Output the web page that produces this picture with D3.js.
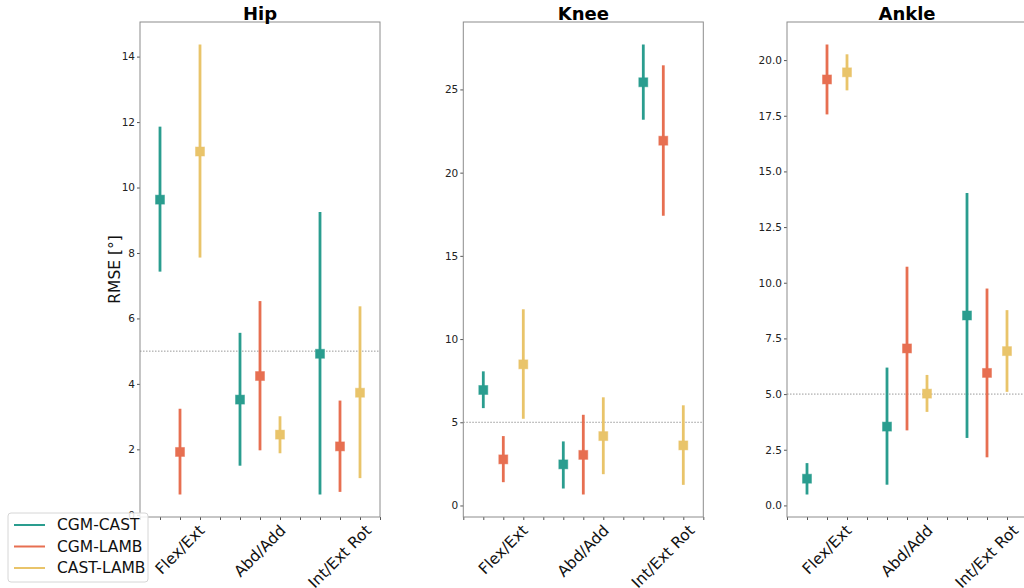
<!DOCTYPE html>
<html>
<head>
<meta charset="utf-8">
<script src="https://cdn.jsdelivr.net/npm/d3@7"></script>
<style>
  body { margin: 0; background: #fff; }
  text { font-family: "DejaVu Sans", sans-serif; }
</style>
</head>
<body>
<div id="chart"></div>
<script>
// categories and series
const categories = ["Flex/Ext", "Abd/Add", "Int/Ext Rot"];
const series = ["CGM-CAST", "CGM-LAMB", "CAST-LAMB"];
const colors = ["#2a9d8f", "#e76f51", "#e9c46a"];

// values read per series (rows) and category (columns)
const hipMean = [[9.63, 3.52, 4.92], [1.92, 4.24, 2.09], [11.10, 2.45, 3.73]];
const hipLow  = [[7.43, 1.50, 0.62], [0.62, 1.97, 0.70], [7.86, 1.88, 1.12]];
const hipHigh = [[11.86, 5.56, 9.25], [3.24, 6.53, 3.49], [14.37, 3.01, 6.37]];

const kneeMean = [[6.94, 2.47, 25.43], [2.77, 3.04, 21.92], [8.48, 4.17, 3.61]];
const kneeLow  = [[5.85, 1.02, 23.18], [1.40, 0.66, 17.41], [5.21, 1.88, 1.24]];
const kneeHigh = [[8.06, 3.85, 27.70], [4.17, 5.45, 26.45], [11.79, 6.50, 6.02]];

const ankleMean = [[1.20, 3.54, 8.53], [19.13, 7.05, 5.95], [19.45, 5.02, 6.93]];
const ankleLow  = [[0.49, 0.93, 3.03], [17.56, 3.37, 2.16], [18.64, 4.20, 5.10]];
const ankleHigh = [[1.90, 6.19, 14.03], [20.70, 10.72, 9.74], [20.26, 5.86, 8.77]];

// y tick labels
const hipTicks = [0, 2, 4, 6, 8, 10, 12, 14];
const kneeTicks = [0, 5, 10, 15, 20, 25];
const ankleTicks = [0, 2.5, 5, 7.5, 10, 12.5, 15, 17.5, 20];

const threshold = 5;

const joints = [
  {title: "Hip", mean: hipMean, low: hipLow, high: hipHigh, ticks: hipTicks, fmt: d3.format("d"), left: 140},
  {title: "Knee", mean: kneeMean, low: kneeLow, high: kneeHigh, ticks: kneeTicks, fmt: d3.format("d"), left: 463.3},
  {title: "Ankle", mean: ankleMean, low: ankleLow, high: ankleHigh, ticks: ankleTicks, fmt: d3.format(".1f"), left: 787}
];

const W = 1024, H = 588;
const plotTop = 22, plotBottom = 517, pw = 240;

const svg = d3.select("#chart").append("svg")
  .attr("width", W).attr("height", H);

joints.forEach(j => {
  const g = svg.append("g").attr("transform", `translate(${j.left},0)`);

  // x positions: 1 + 4*category + series
  const x = d3.scaleLinear().domain([0, 12]).range([0, pw]);

  const lo = d3.min(j.low.flat()), hi = d3.max(j.high.flat());
  const pad = (hi - lo) * 0.05;
  const y = d3.scaleLinear().domain([lo - pad, hi + pad]).range([plotBottom, plotTop]);

  // threshold line
  g.append("line")
    .attr("x1", 0).attr("x2", pw)
    .attr("y1", y(threshold)).attr("y2", y(threshold))
    .attr("stroke", "#999").attr("stroke-width", 1)
    .attr("stroke-dasharray", "1.5,1.5");

  // error bars
  const pts = [];
  series.forEach((s, si) => {
    categories.forEach((c, ci) => {
      pts.push({pos: 1 + 4 * ci + si, m: j.mean[si][ci], l: j.low[si][ci], h: j.high[si][ci], color: colors[si]});
    });
  });

  g.append("g").selectAll("line")
    .data(pts)
    .join("line")
    .attr("x1", d => x(d.pos)).attr("x2", d => x(d.pos))
    .attr("y1", d => y(d.l)).attr("y2", d => y(d.h))
    .attr("stroke", d => d.color).attr("stroke-width", 2.8);

  g.append("g").selectAll("rect")
    .data(pts)
    .join("rect")
    .attr("x", d => x(d.pos) - 4.5).attr("y", d => y(d.m) - 4.5)
    .attr("width", 9).attr("height", 9)
    .attr("fill", d => d.color)
    .attr("stroke", d => d.color).attr("stroke-opacity", 0.45).attr("stroke-width", 1);

  // axes
  const yAxis = g.append("g")
    .call(d3.axisLeft(y).tickValues(j.ticks.filter(t => t >= y.domain()[0] && t <= y.domain()[1]))
      .tickFormat(j.fmt).tickSize(3).tickPadding(2));
  yAxis.select(".domain").remove();
  yAxis.selectAll("line").attr("stroke", "#555");
  yAxis.selectAll("text").attr("font-size", 10.5).attr("fill", "#222")
    .style("font-family", "DejaVu Sans, sans-serif");

  const xAxis = g.append("g").attr("transform", `translate(0,${plotBottom})`)
    .call(d3.axisBottom(x).tickValues(d3.range(0, 13)).tickFormat("").tickSize(3));
  xAxis.select(".domain").remove();
  xAxis.selectAll("line").attr("stroke", "#555");

  // category labels, rotated 45 degrees, centered on tick
  categories.forEach((c, ci) => {
    const t = g.append("text")
      .attr("font-size", 15.5).attr("fill", "#111")
      .attr("text-anchor", "middle").attr("dominant-baseline", "central")
      .text(c);
    const w = t.node().getComputedTextLength();
    const h = 15.5 * 0.9;
    const half = (w + h) * Math.SQRT1_2 / 2;
    const cx = x(1 + 4 * ci + 1), cy = plotBottom + 6 + half;
    t.attr("transform", `translate(${cx},${cy}) rotate(-45)`);
  });

  // frame
  g.append("rect")
    .attr("x", 0).attr("y", plotTop).attr("width", pw).attr("height", plotBottom - plotTop)
    .attr("fill", "none").attr("stroke", "#8c8c8c").attr("stroke-width", 1);

  // title
  g.append("text")
    .attr("x", pw / 2).attr("y", 20)
    .attr("text-anchor", "middle")
    .attr("font-size", 18).attr("font-weight", "bold")
    .text(j.title);
});

// y label
svg.append("text")
  .attr("transform", `translate(120,${(plotTop + plotBottom) / 2}) rotate(-90)`)
  .attr("text-anchor", "middle")
  .attr("font-size", 15.5).attr("fill", "#111")
  .text("RMSE [°]");

// legend
const leg = svg.append("g").attr("transform", "translate(8,513)");
leg.append("rect")
  .attr("width", 140).attr("height", 69).attr("rx", 3)
  .attr("fill", "#fff").attr("fill-opacity", 0.85)
  .attr("stroke", "#d6d6d6").attr("stroke-width", 1);
series.forEach((s, i) => {
  const yy = 12 + i * 21.5;
  leg.append("line")
    .attr("x1", 6).attr("x2", 37).attr("y1", yy).attr("y2", yy)
    .attr("stroke", colors[i]).attr("stroke-width", 2);
  leg.append("text")
    .attr("x", 49).attr("y", yy).attr("dominant-baseline", "central")
    .attr("font-size", 15.5).attr("fill", "#111")
    .text(s);
});
</script>
</body>
</html>
